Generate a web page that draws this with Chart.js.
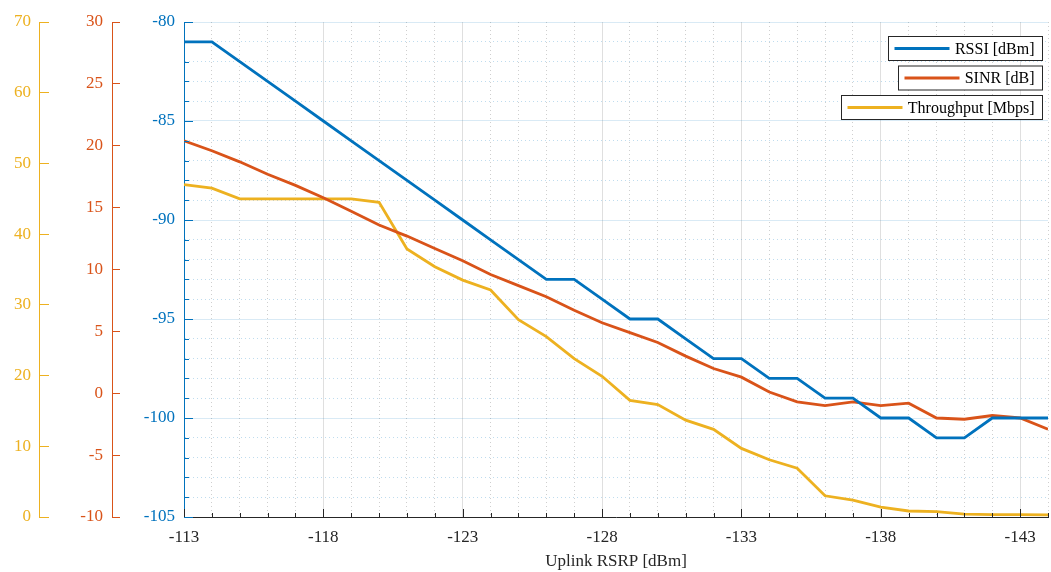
<!DOCTYPE html>
<html>
<head>
<meta charset="utf-8">
<title>Uplink RSRP</title>
<script src="https://cdn.jsdelivr.net/npm/chart.js@4"></script>
<style>
  html, body { margin: 0; padding: 0; background: #fff; overflow: hidden; }
  #wrap { position: relative; width: 1058px; height: 572px; }
</style>
</head>
<body>
<div id="wrap"><canvas id="rsrpChart" width="1058" height="572"></canvas></div>
<script>
// uplink RSRP sweep (x axis) and the three measured series
const rsrp = [-113, -114, -115, -116, -117, -118, -119, -120, -121, -122, -123, -124, -125, -126, -127, -128,
              -129, -130, -131, -132, -133, -134, -135, -136, -137, -138, -139, -140, -141, -142, -143, -144];
const rssi = [-81, -81, -82, -83, -84, -85, -86, -87, -88, -89, -90, -91, -92, -93, -93, -94,
              -95, -95, -96, -97, -97, -98, -98, -99, -99, -100, -100, -101, -101, -100, -100, -100];
const sinr = [20.4, 19.6, 18.7, 17.7, 16.8, 15.8, 14.7, 13.6, 12.7, 11.7, 10.7, 9.6, 8.7, 7.8, 6.7, 5.7,
              4.9, 4.1, 3.0, 2.0, 1.3, 0.1, -0.7, -1.0, -0.7, -1.0, -0.8, -2.0, -2.1, -1.8, -2.0, -2.9];
const throughput = [47.0, 46.5, 45.0, 45.0, 45.0, 45.0, 45.0, 44.5, 37.9, 35.4, 33.5, 32.1, 27.9, 25.5, 22.4, 19.9,
                    16.5, 15.9, 13.7, 12.4, 9.7, 8.1, 6.9, 3.0, 2.4, 1.4, 0.85, 0.75, 0.4, 0.35, 0.35, 0.3];

const xLabelTicks = [-113, -118, -123, -128, -133, -138, -143];
const seriesNames = ['RSSI [dBm]', 'SINR [dB]', 'Throughput [Mbps]'];

const BLUE = '#0072BD';
const ORANGE = '#D95319';
const YELLOW = '#EDB120';
const AXIS = '#262626';

Chart.defaults.font.family = '"Liberation Serif", "Times New Roman", serif';
Chart.defaults.font.size = 17;

function pts(ys) {
    return rsrp.map((x, i) => ({ x: x, y: ys[i] }));
}

// MATLAB style: secondary axis lines with ticks pointing right, inward ticks on main axes
const axisDecor = {
    id: 'axisDecor',
    afterDatasetsDraw(chart) {
        const ctx = chart.ctx;
        const s = chart.scales;
        ctx.save();
        ctx.lineWidth = 1;

        [['ySinr', ORANGE], ['yThr', YELLOW]].forEach(([id, col]) => {
            const sc = s[id];
            const xp = Math.round(sc.right - sc.options.grid.tickLength) + 0.5;
            ctx.strokeStyle = col;
            ctx.beginPath();
            ctx.moveTo(xp, sc.top);
            ctx.lineTo(xp, sc.bottom);
            ctx.stroke();
        });

        ctx.strokeStyle = AXIS;
        s.x.ticks.forEach((t, i) => {
            const px = Math.round(s.x.getPixelForTick(i)) + 0.5;
            const len = xLabelTicks.includes(t.value) ? 8 : 4;
            ctx.beginPath();
            ctx.moveTo(px, s.x.top);
            ctx.lineTo(px, s.x.top - len);
            ctx.stroke();
        });

        ctx.strokeStyle = BLUE;
        s.y.ticks.forEach((t, i) => {
            const py = Math.round(s.y.getPixelForTick(i)) + 0.5;
            const len = t.value % 5 === 0 ? 9 : 5;
            ctx.beginPath();
            ctx.moveTo(s.y.right, py);
            ctx.lineTo(s.y.right + len, py);
            ctx.stroke();
        });
        ctx.restore();
    }
};

// one boxed legend entry per axis, stacked at the top right
const boxedLegend = {
    id: 'boxedLegend',
    afterDraw(chart) {
        const ctx = chart.ctx;
        ctx.save();
        ctx.font = '16px "Liberation Serif", "Times New Roman", serif';
        ctx.textBaseline = 'middle';
        const right = 1042.5;
        let top = 36.5;
        chart.data.datasets.forEach(ds => {
            const tw = ctx.measureText(ds.label).width;
            const w = Math.round(6 + 55 + 5 + tw + 8);
            const h = 24;
            const left = right - w;
            ctx.fillStyle = '#fff';
            ctx.fillRect(left, top, w, h);
            ctx.strokeStyle = AXIS;
            ctx.lineWidth = 1;
            ctx.strokeRect(left, top, w, h);
            ctx.strokeStyle = ds.borderColor;
            ctx.lineWidth = 2.8;
            ctx.beginPath();
            ctx.moveTo(left + 6, top + h / 2);
            ctx.lineTo(left + 61, top + h / 2);
            ctx.stroke();
            ctx.fillStyle = '#000';
            ctx.fillText(ds.label, right - 8 - tw, top + h / 2 + 1);
            top += 29.5;
        });
        ctx.restore();
    }
};

const ctx1 = document.getElementById('rsrpChart').getContext('2d');
const rsrpChart = new Chart(ctx1, {
    type: 'line',
    data: {
        datasets: [{
            label: seriesNames[0],
            data: pts(rssi),
            yAxisID: 'y',
            borderColor: BLUE,
            borderWidth: 2.8,
            pointRadius: 0,
            tension: 0
        }, {
            label: seriesNames[1],
            data: pts(sinr),
            yAxisID: 'ySinr',
            borderColor: ORANGE,
            borderWidth: 2.8,
            pointRadius: 0,
            tension: 0
        }, {
            label: seriesNames[2],
            data: pts(throughput),
            yAxisID: 'yThr',
            borderColor: YELLOW,
            borderWidth: 2.8,
            pointRadius: 0,
            tension: 0
        }]
    },
    options: {
        responsive: false,
        animation: false,
        devicePixelRatio: 1,
        layout: { padding: { top: 22, left: 0, right: 0, bottom: 0 } },
        plugins: {
            legend: { display: false },
            tooltip: { enabled: false }
        },
        scales: {
            x: {
                type: 'linear',
                position: 'bottom',
                reverse: true,
                min: -144,
                max: -113,
                afterFit: s => { s.height = 55; },
                ticks: {
                    stepSize: 1,
                    autoSkip: false,
                    maxRotation: 0,
                    padding: 10,
                    color: AXIS,
                    callback: v => xLabelTicks.includes(v) ? String(v) : ''
                },
                grid: {
                    drawTicks: false,
                    color: c => (c.tick && xLabelTicks.includes(c.tick.value)) ? 'rgba(38,38,38,0.15)' : 'rgba(38,38,38,0.22)'
                },
                border: {
                    color: AXIS,
                    width: 1,
                    dash: c => (c.tick && !xLabelTicks.includes(c.tick.value)) ? [1, 3] : []
                },
                title: {
                    display: true,
                    text: 'Uplink RSRP [dBm]',
                    color: AXIS,
                    font: { size: 17 },
                    padding: { top: 0, bottom: 0 }
                }
            },
            y: {
                type: 'linear',
                position: 'left',
                weight: 1,
                min: -105,
                max: -80,
                afterFit: s => { s.width = 64; },
                ticks: {
                    stepSize: 1,
                    autoSkip: false,
                    padding: 9,
                    color: BLUE,
                    callback: v => v % 5 === 0 ? String(v) : ''
                },
                grid: {
                    drawTicks: false,
                    color: c => (c.tick && c.tick.value % 5 === 0) ? 'rgba(0,114,189,0.15)' : 'rgba(0,114,189,0.25)'
                },
                border: {
                    color: BLUE,
                    width: 1,
                    dash: c => (c.tick && c.tick.value % 5 !== 0) ? [1, 3] : []
                }
            },
            ySinr: {
                type: 'linear',
                position: 'left',
                weight: 2,
                min: -10,
                max: 30,
                afterFit: s => { s.width = 71; },
                ticks: { stepSize: 5, padding: 9, color: ORANGE },
                grid: { drawOnChartArea: false, drawTicks: true, tickLength: 8, tickColor: ORANGE },
                border: { display: false }
            },
            yThr: {
                type: 'linear',
                position: 'left',
                weight: 3,
                min: 0,
                max: 70,
                afterFit: s => { s.width = 49; },
                ticks: { stepSize: 10, padding: 8, color: YELLOW },
                grid: { drawOnChartArea: false, drawTicks: true, tickLength: 10, tickColor: YELLOW },
                border: { display: false }
            }
        }
    },
    plugins: [axisDecor, boxedLegend]
});
</script>
</body>
</html>
